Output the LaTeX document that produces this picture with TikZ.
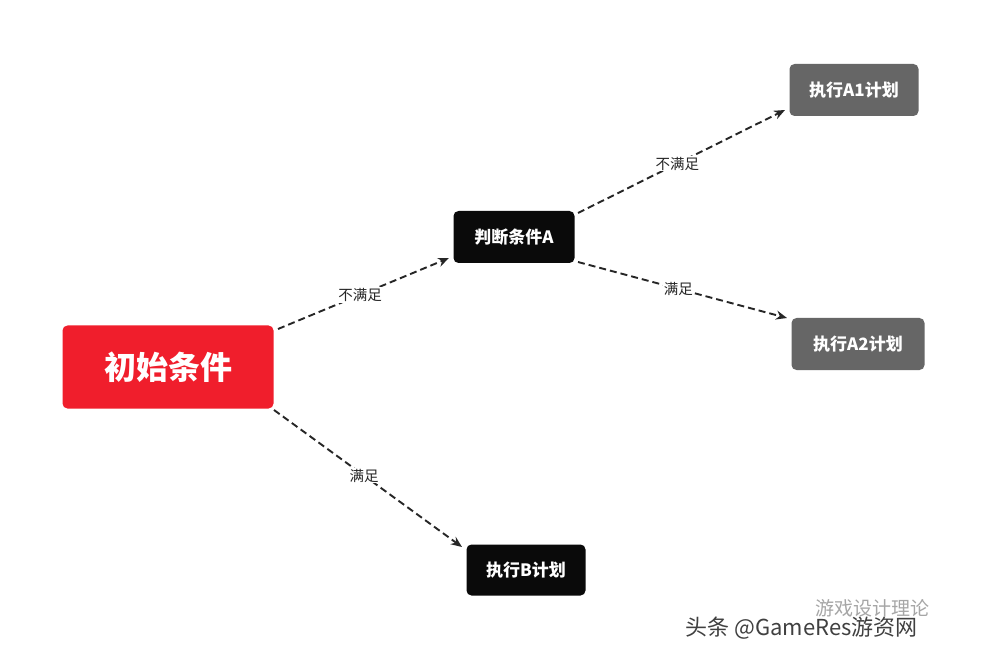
\documentclass[tikz,border=0pt]{standalone}
\usepackage{fontspec}
\newfontfamily\cjk{Noto Sans CJK SC}
\usetikzlibrary{arrows.meta}
\definecolor{myred}{HTML}{F01E2C}
\definecolor{mygray}{HTML}{666666}
\definecolor{myblack}{HTML}{0A0A0A}
\tikzset{
 box/.style={rounded corners=5pt,text=white,font=\cjk\bfseries\fontsize{17}{20}\selectfont,inner sep=0pt,align=center},
 conn/.style={line width=1.9pt,draw=black!85,dash pattern=on 7pt off 4pt,-{Stealth[length=11pt,width=9pt]}},
 lbl/.style={fill=white,font=\cjk\fontsize{14.5}{17}\selectfont,inner sep=1pt,text=black!85}
}
\begin{document}
\begin{tikzpicture}[x=1pt,y=-1pt]
\useasboundingbox[fill=white] (0,0) rectangle (988,660);
\node[box,fill=myred,minimum width=211pt,minimum height=83pt,font=\cjk\bfseries\fontsize{32}{36}\selectfont] (init) at (168,367) {初始条件};
\node[box,fill=myblack,minimum width=121pt,minimum height=52pt] (judge) at (514,237) {判断条件A};
\node[box,fill=mygray,minimum width=129pt,minimum height=52pt] (a1) at (854,90) {执行A1计划};
\node[box,fill=mygray,minimum width=133pt,minimum height=52pt] (a2) at (858,344) {执行A2计划};
\node[box,fill=myblack,minimum width=119pt,minimum height=51pt] (b) at (526,570) {执行B计划};
\coordinate (s1) at (278,329); \coordinate (e1) at (449,258);
\coordinate (s2) at (274,410); \coordinate (e2) at (462,547);
\coordinate (s3) at (578,213); \coordinate (e3) at (785,110);
\coordinate (s4) at (578,262); \coordinate (e4) at (787,318);
\draw[conn] (s1) -- node[lbl,pos=0.48] {不满足} (e1);
\draw[conn] (s2) -- node[lbl,pos=0.48] {满足} (e2);
\draw[conn] (s3) -- node[lbl,pos=0.48] {不满足} (e3);
\draw[conn] (s4) -- node[lbl,pos=0.48] {满足} (e4);
\node[font=\cjk\fontsize{19}{24}\selectfont,text=black!35,anchor=west] (wm2) at (812,608) {游戏设计理论};
\node[font=\cjk\fontsize{22}{26}\selectfont,text=black!75,anchor=west] (wm) at (682,628) {头条 @GameRes游资网};
\end{tikzpicture}
\end{document}
